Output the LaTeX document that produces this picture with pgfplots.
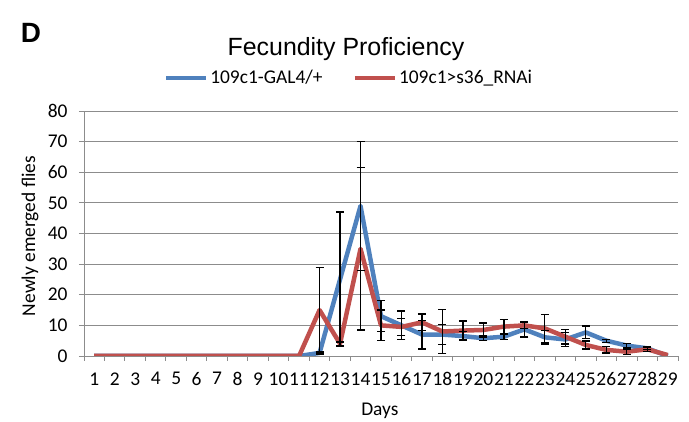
\documentclass[border=0pt]{standalone}
\usepackage{fontspec}
\setmainfont{Carlito}
\newfontfamily\arialfont{Liberation Sans}
\usepackage{pgfplots}
\usepackage{pgfplotstable}
\pgfplotsset{compat=1.18}

\definecolor{serblue}{HTML}{4F81BD}
\definecolor{serred}{HTML}{C0504D}
\definecolor{gridgray}{HTML}{8C8C8C}

% day, control mean and error, RNAi mean and error
\pgfplotstableread{
day blue berr red rerr
1  0    0    0    0
2  0    0    0    0
3  0    0    0    0
4  0    0    0    0
5  0    0    0    0
6  0    0    0    0
7  0    0    0    0
8  0    0    0    0
9  0    0    0    0
10 0    0    0    0
11 0    0    0    0
12 1    0.5  15   14
13 25   22   4    0.6
14 49   21   35   26.5
15 13   5    10   5
16 10   4.7  9.5  2.7
17 7    4.7  11   2.7
18 7    3.3  8    7.3
19 6.5  1.5  8.3  3.1
20 5.8  0.7  8.5  2.3
21 6.3  1    9.6  2.4
22 8.7  2.5  10   1
23 6.1  2.2  9    4.5
24 5.4  2.2  6.3  2.4
25 7.7  2.1  3.6  1.3
26 5    0.5  2    1
27 3.4  0.7  1.4  0.9
28 2.5  0.5  2.2  0.7
29 0    0    0.3  0
}\fecundity

\newcommand{\txt}{\fontsize{19.5}{23}\selectfont}

\begin{document}
\begin{tikzpicture}
\path[use as bounding box] (0,0) rectangle (689bp,422bp);
\node[font=\arialfont\bfseries\fontsize{28}{32}\selectfont] at (31bp,389bp) {D};
\node[font=\arialfont\fontsize{25}{30}\selectfont] at (346bp,373bp) {Fecundity Proficiency};
\begin{axis}[
  at={(84bp,66bp)}, anchor=south west,
  scale only axis, width=594bp, height=245bp,
  xmin=0.5, xmax=29.5, ymin=0, ymax=80,
  xtick={0.5,1.5,...,29.5}, xticklabels={},
  extra x ticks={1,...,29},
  extra x tick style={major tick length=0pt, grid=none},
  ytick={0,10,...,80},
  tick align=outside, major tick length=5bp,
  axis x line*=bottom, axis y line*=left,
  axis line style={gridgray, line width=1bp, -},
  ymajorgrids, grid style={gridgray, line width=1bp},
  tick style={gridgray, line width=1bp},
  /pgf/number format/assume math mode=true,
  tick label style={font=\txt, black},
  xticklabel style={yshift=-13bp},
  yticklabel style={xshift=-8bp},
  xlabel={Days}, ylabel={Newly emerged flies},
  label style={font=\txt},
  xlabel style={at={(0.498,-0.224)}, anchor=center},
  ylabel style={at={(-0.0909,0.49)}, anchor=center},
  legend style={at={(0.446,1.135)}, anchor=center, draw=none, fill=none,
    font=\txt, legend columns=2,
    /tikz/every even column/.append style={column sep=28bp}},
  legend image code/.code={\draw[line width=4.5bp] (0bp,0bp) -- (40bp,0bp);},
]
\addplot[serblue, line width=4.5bp, line join=round] table[x=day,y=blue]{\fecundity};
\addlegendentry{109c1-GAL4/+}
\addplot[serred, line width=4.5bp, line join=round] table[x=day,y=red]{\fecundity};
\addlegendentry{109c1>s36\_RNAi}
\addplot[draw=none, forget plot, restrict x to domain=12:28,
  error bars/.cd, y dir=both, y explicit,
  error bar style={draw=black, line width=1.2bp},
  error mark options={draw=black, rotate=90, mark size=4bp, line width=1.2bp}]
  table[x=day, y=blue, y error=berr]{\fecundity};
\addplot[draw=none, forget plot, restrict x to domain=12:28,
  error bars/.cd, y dir=both, y explicit,
  error bar style={draw=black, line width=1.2bp},
  error mark options={draw=black, rotate=90, mark size=4bp, line width=1.2bp}]
  table[x=day, y=red, y error=rerr]{\fecundity};
\end{axis}
\end{tikzpicture}
\end{document}
